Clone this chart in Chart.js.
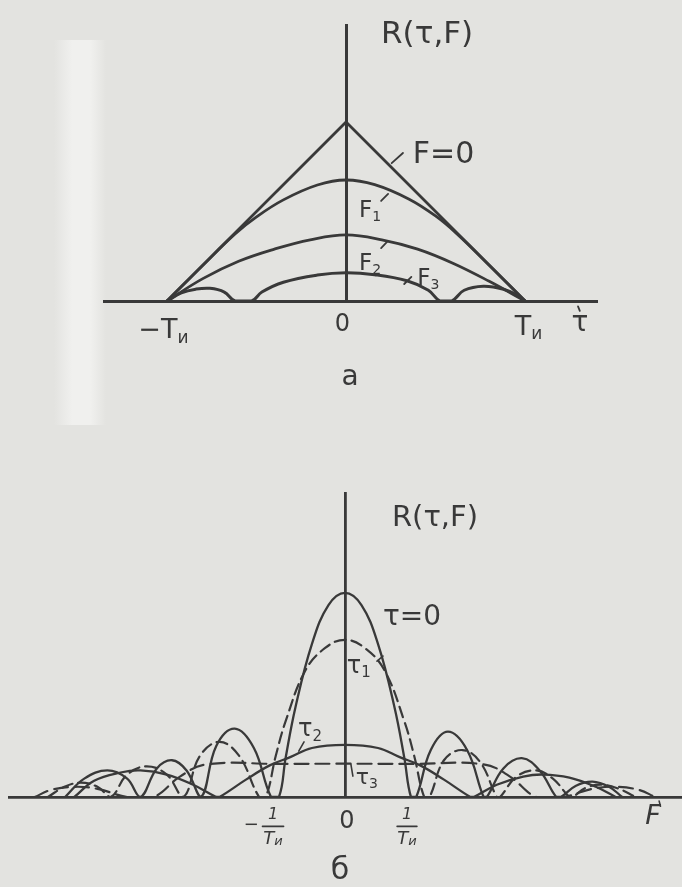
<!DOCTYPE html>
<html>
<head>
<meta charset="utf-8">
<script src="https://cdn.jsdelivr.net/npm/chart.js@4.4.1/dist/chart.umd.min.js"></script>
<style>
  html, body { margin: 0; padding: 0; background: #e3e3e0; }
  #page { position: relative; width: 682px; height: 887px; overflow: hidden; background: #e3e3e0; }
  #strip { position: absolute; left: 54px; top: 40px; width: 52px; height: 385px;
    background: linear-gradient(90deg, rgba(240,240,238,0) 0%, rgba(240,240,238,1) 35%, rgba(240,240,238,1) 70%, rgba(240,240,238,0) 100%); }
  canvas { position: absolute; left: 0; }
</style>
</head>
<body>
<div id="page">
  <div id="strip"></div>
  <canvas id="chartA" width="682" height="420" style="top:0"></canvas>
  <canvas id="chartB" width="682" height="467" style="top:420px"></canvas>
</div>
<script>
// ---- (а) R(τ,F) versus τ for several Doppler shifts F; τ in units of Tи ----
const tauTicks = [-1, 0, 1];
const curveF0 = [[-1, 0], [0, 1], [1, 0]];
const curveF1 = [[-1, 0], [-0.8, 0.2], [-0.62, 0.375], [-0.5, 0.47], [-0.35, 0.565], [-0.16, 0.648], [0, 0.676],
                 [0.16, 0.65], [0.35, 0.57], [0.5, 0.475], [0.62, 0.375], [0.8, 0.2], [1, 0]];
const curveF2 = [[-1, 0], [-0.8, 0.125], [-0.6, 0.222], [-0.4, 0.29], [-0.2, 0.342], [0, 0.369],
                 [0.2, 0.342], [0.4, 0.29], [0.6, 0.21], [0.8, 0.11], [1, 0]];
const curveF3 = [[-1, 0], [-0.92, 0.045], [-0.84, 0.066], [-0.76, 0.071], [-0.68, 0.05], [-0.62, 0],
                 [-0.527, 0], [-0.47, 0.05], [-0.35, 0.105], [-0.16, 0.145], [0, 0.158], [0.16, 0.147],
                 [0.34, 0.113], [0.46, 0.06], [0.525, 0], [0.59, 0], [0.66, 0.06], [0.767, 0.083],
                 [0.88, 0.066], [0.96, 0.03], [1, 0]];

// ---- (б) R(τ,F) versus F for several delays τ; F in units of 1/Tи ----
const freqTicks = [-1, 0, 1];
const curveT0 = [[-4.24, 0], [-3.95, 0.09], [-3.6, 0.13], [-3.3, 0.09], [-3.1, 0],
                 [-2.85, 0.14], [-2.62, 0.18], [-2.4, 0.13], [-2.18, 0],
                 [-1.95, 0.25], [-1.67, 0.335], [-1.38, 0.24], [-1.12, 0], [-1.0, 0],
                 [-0.9, 0.19], [-0.75, 0.44], [-0.5, 0.75], [-0.25, 0.94], [0, 1], [0.25, 0.94],
                 [0.5, 0.75], [0.75, 0.44], [0.9, 0.19], [1.0, 0], [1.08, 0],
                 [1.3, 0.23], [1.56, 0.32], [1.85, 0.23], [2.1, 0], [2.15, 0],
                 [2.4, 0.14], [2.68, 0.19], [2.95, 0.13], [3.2, 0], [3.27, 0],
                 [3.5, 0.055], [3.75, 0.075], [4.0, 0.05], [4.2, 0]];
const curveT1 = [[-4.5, 0], [-4.25, 0.05], [-4.0, 0.07], [-3.75, 0.05], [-3.55, 0],
                 [-3.3, 0.11], [-3.0, 0.15], [-2.7, 0.11], [-2.45, 0],
                 [-2.2, 0.2], [-1.9, 0.27], [-1.6, 0.2], [-1.3, 0], [-1.2, 0],
                 [-1.05, 0.2], [-0.9, 0.37], [-0.6, 0.62], [-0.3, 0.73], [0, 0.77], [0.3, 0.73],
                 [0.6, 0.62], [0.9, 0.37], [1.05, 0.2], [1.2, 0], [1.28, 0],
                 [1.5, 0.18], [1.78, 0.23], [2.05, 0.17], [2.3, 0], [2.35, 0],
                 [2.6, 0.1], [2.9, 0.13], [3.15, 0.09], [3.4, 0], [3.45, 0],
                 [3.65, 0.045], [3.9, 0.06], [4.15, 0.04], [4.4, 0]];
const curveT2 = [[-4.1, 0], [-3.8, 0.08], [-3.4, 0.12], [-3.1, 0.13], [-2.7, 0.11], [-2.3, 0.06], [-1.95, 0],
                 [-1.9, 0], [-1.5, 0.085], [-1.14, 0.155], [-0.83, 0.195], [-0.5, 0.24], [0, 0.255],
                 [0.5, 0.24], [0.83, 0.195], [1.14, 0.155], [1.5, 0.085], [1.9, 0],
                 [1.95, 0], [2.3, 0.06], [2.7, 0.1], [3.0, 0.11], [3.4, 0.095], [3.8, 0.05], [4.1, 0]];
const curveT3 = [[-4.7, 0], [-4.45, 0.035], [-4.1, 0.05], [-3.75, 0.04], [-3.3, 0], [-2.9, 0],
                 [-2.5, 0.1], [-2.1, 0.16], [-1, 0.162], [0, 0.163], [1, 0.162], [2.1, 0.16],
                 [2.5, 0.1], [2.9, 0], [3.3, 0], [3.75, 0.04], [4.1, 0.05], [4.45, 0.035], [4.7, 0]];

const INK = '#393939';
const FAMILY = '"DejaVu Sans", "Liberation Sans", sans-serif';

// Text pieces: [string, relative size, vertical shift in em]
const labelsA = [
  { runs: [['R(τ,F)', 1]], x: 0.453, y: 1.486, size: 31 },
  { runs: [['F=0', 1]], x: 0.545, y: 0.816, size: 30 },
  { runs: [['F', 1], ['1', 0.62, 0.28]], x: 0.134, y: 0.503, size: 23 },
  { runs: [['F', 1], ['2', 0.62, 0.28]], x: 0.134, y: 0.207, size: 23 },
  { runs: [['F', 1], ['3', 0.62, 0.28]], x: 0.46, y: 0.123, size: 23 },
  { runs: [['−T', 1], ['и', 0.62, 0.25]], x: -1.02, y: -0.17, size: 27 },
  { runs: [['0', 1]], x: -0.02, y: -0.13, size: 24 },
  { runs: [['T', 1], ['и', 0.62, 0.25]], x: 1.02, y: -0.15, size: 27 },
  { runs: [['τ', 1]], x: 1.307, y: -0.125, size: 28 },
  { runs: [['а', 1]], x: 0.022, y: -0.43, size: 28 }
];
const strokesA = [
  [[0.255, 0.77], [0.318, 0.827]],
  [[0.196, 0.559], [0.235, 0.598]],
  [[0.196, 0.296], [0.229, 0.330]],
  [[0.325, 0.095], [0.365, 0.135]],
  [[1.296, -0.03], [1.306, -0.055]]
];
const labelsB = [
  { runs: [['R(τ,F)', 1]], x: 1.364, y: 1.366, size: 29 },
  { runs: [['τ=0', 1]], x: 1.015, y: 0.876, size: 28 },
  { runs: [['τ', 1], ['1', 0.62, 0.28]], x: 0.21, y: 0.64, size: 24 },
  { runs: [['τ', 1], ['2', 0.62, 0.28]], x: -0.53, y: 0.327, size: 24 },
  { runs: [['τ', 1], ['3', 0.62, 0.28]], x: 0.33, y: 0.092, size: 22 },
  { runs: [['1', 1]], x: -1.09, y: -0.086, size: 16, style: 'italic' },
  { runs: [['T', 1], ['и', 0.7, 0.15]], x: -1.09, y: -0.205, size: 18, style: 'italic' },
  { runs: [['−', 1]], x: -1.42, y: -0.14, size: 18 },
  { runs: [['0', 1]], x: 0.03, y: -0.12, size: 24 },
  { runs: [['1', 1]], x: 0.94, y: -0.086, size: 16, style: 'italic' },
  { runs: [['T', 1], ['и', 0.7, 0.15]], x: 0.94, y: -0.205, size: 18, style: 'italic' },
  { runs: [['F', 1]], x: 4.667, y: -0.1, size: 27, style: 'italic' },
  { runs: [['б', 1]], x: -0.076, y: -0.365, size: 30 }
];
const strokesB = [
  [[-1.25, -0.144], [-0.93, -0.144]],
  [[0.79, -0.144], [1.09, -0.144]],
  [[0.485, 0.665], [0.576, 0.69]],
  [[-0.70, 0.225], [-0.62, 0.27]],
  [[0.09, 0.16], [0.12, 0.102]],
  [[4.76, -0.02], [4.78, -0.045]]
];

function drawRuns(ctx, item, px, py) {
  const style = item.style || '';
  const widths = item.runs.map(r => {
    ctx.font = `${style} ${Math.round(item.size * r[1])}px ${FAMILY}`;
    return ctx.measureText(r[0]).width;
  });
  let x = px - widths.reduce((a, b) => a + b, 0) / 2;
  item.runs.forEach((r, i) => {
    ctx.font = `${style} ${Math.round(item.size * r[1])}px ${FAMILY}`;
    ctx.fillText(r[0], x, py + (r[2] || 0) * item.size);
    x += widths[i];
  });
}

function annotations(labels, strokes, lw) {
  return {
    id: 'annotations',
    afterDraw(chart) {
      const { ctx, scales } = chart;
      const X = v => scales.x.getPixelForValue(v);
      const Y = v => scales.y.getPixelForValue(v);
      ctx.save();
      ctx.fillStyle = INK;
      ctx.strokeStyle = INK;
      ctx.textAlign = 'left';
      ctx.textBaseline = 'middle';
      labels.forEach(l => drawRuns(ctx, l, X(l.x), Y(l.y)));
      ctx.lineWidth = lw;
      ctx.lineCap = 'round';
      strokes.forEach(s => {
        ctx.beginPath();
        ctx.moveTo(X(s[0][0]), Y(s[0][1]));
        ctx.lineTo(X(s[1][0]), Y(s[1][1]));
        ctx.stroke();
      });
      ctx.restore();
    }
  };
}

function series(data, width, dash, straight) {
  return {
    data, borderColor: INK, borderWidth: width, borderDash: dash || [],
    pointRadius: 0, fill: false,
    tension: straight ? 0 : 0.4,
    cubicInterpolationMode: 'default',
    borderCapStyle: 'round', borderJoinStyle: 'round'
  };
}

function options(xRange, yRange, ticks, padding, axisWidth) {
  const axis = (range, pos) => ({
    type: 'linear', min: range[0], max: range[1], position: pos,
    grid: { display: false, drawTicks: false },
    border: { display: true, color: INK, width: axisWidth },
    ticks: { display: false }
  });
  const x = axis(xRange, { y: 0 });
  x.afterBuildTicks = s => { s.ticks = ticks.map(v => ({ value: v })); };
  return {
    responsive: false, animation: false, devicePixelRatio: 1,
    layout: { padding },
    plugins: { legend: { display: false }, tooltip: { enabled: false } },
    scales: { x, y: axis(yRange, { x: 0 }) }
  };
}

new Chart(document.getElementById('chartA'), {
  type: 'line',
  data: { datasets: [
    series(curveF0, 2.8, null, true),
    series(curveF1, 2.8),
    series(curveF2, 2.8),
    series(curveF3, 3.0)
  ] },
  options: options([-1.352, 1.402], [0, 1.542], tauTicks, { left: 104, right: 85, top: 25, bottom: 119 }, 3),
  plugins: [annotations(labelsA, strokesA, 1.8)]
});

new Chart(document.getElementById('chartB'), {
  type: 'line',
  data: { datasets: [
    series(curveT0, 2.3),
    series(curveT1, 2.2, [11, 6]),
    series(curveT2, 2.3),
    series(curveT3, 2.2, [14, 7])
  ] },
  options: options([-5.09, 5.106], [0, 1.489], freqTicks, { left: 9, right: 0, top: 73, bottom: 90 }, 2.8),
  plugins: [annotations(labelsB, strokesB, 1.6)]
});
</script>
</body>
</html>
